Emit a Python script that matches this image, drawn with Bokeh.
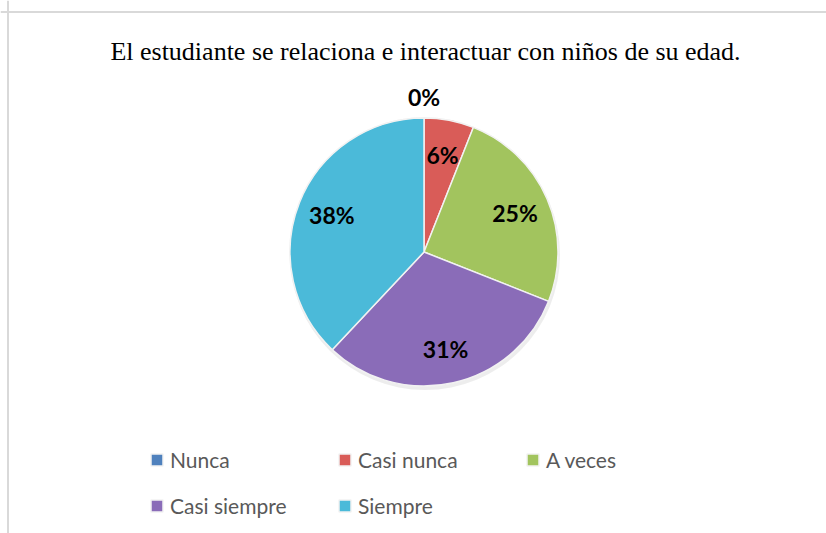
import math
from bokeh.plotting import figure
from bokeh.models import Range1d, Span, Legend, LegendItem, ColumnDataSource
from bokeh.core.properties import value
from bokeh.embed import file_html
from bokeh.resources import INLINE

TITLE = "El estudiante se relaciona e interactuar con niños de su edad."
categories = ["Nunca", "Casi nunca", "A veces", "Casi siempre", "Siempre"]
percentages = [0, 6, 25, 31, 38]
labels = ["0%", "6%", "25%", "31%", "38%"]
colors = ["#4f81bd", "#d95c58", "#a2c45e", "#8a6cb8", "#4bbad9"]

# layout (screen pixels; y is negated screen y)
CX, CY, R = 423.5, -251.5, 134

p = figure(width=826, height=533, x_range=Range1d(0, 826), y_range=Range1d(-533, 0),
           output_backend="svg", toolbar_location=None,
           x_axis_type=None, y_axis_type=None,
           min_border_left=0, min_border_right=0, min_border_top=0, min_border_bottom=0)
p.grid.visible = False
p.outline_line_color = None
p.background_fill_color = "white"
p.border_fill_color = "white"

# chart frame lines (top and left visible in reference crop)
p.add_layout(Span(location=-11.5, dimension="width", line_color="#d9d9d9", line_width=2))
p.add_layout(Span(location=7.5, dimension="height", line_color="#d9d9d9", line_width=2))

total = float(sum(percentages))
starts, ends, lx, ly = [], [], [], []
cum = 0.0
for v in percentages:
    a0 = cum / total * 2 * math.pi
    a1 = (cum + v) / total * 2 * math.pi
    starts.append(math.pi / 2 - a0)
    ends.append(math.pi / 2 - a1)
    mid = (a0 + a1) / 2
    f = 0.74 if v > 0 else 1.155
    lx.append(CX + f * R * math.sin(mid))
    ly.append(CY + f * R * math.cos(mid))
    cum += v

src = ColumnDataSource(dict(cat=categories, start=starts, end=ends, color=colors,
                            x=[CX] * len(categories), y=[CY] * len(categories)))

# soft shadow
p.circle(x=[CX + 1], y=[CY - 3], radius=R + 1, fill_color="#000000", fill_alpha=0.07, line_color=None)

wr = p.wedge(x="x", y="y", radius=R, start_angle="start", end_angle="end", direction="clock",
             fill_color="color", line_color="#f2f2f2", line_width=1.5, source=src)

p.text(x=lx, y=ly, text=labels, text_font=value("Lato"), text_font_style="bold",
       text_font_size="23px", text_align="center", text_baseline="middle", text_color="black")

p.text(x=[425], y=[-51], text=[TITLE], text_font=value("Liberation Serif"),
       text_font_size="26px", text_align="center", text_baseline="alphabetic", text_color="black")

items = [LegendItem(label=c, renderers=[wr], index=i) for i, c in enumerate(categories)]
legend = Legend(items=items, location=(149, 15), orientation="horizontal", ncols=3,
                glyph_width=15, glyph_height=15, label_standoff=6, spacing=21, label_width=146,
                padding=0, margin=0, border_line_alpha=0, background_fill_alpha=0,
                label_text_font="Lato", label_text_font_size="21px", label_text_color="#595959")
p.add_layout(legend, "center")

open("out.html", "w").write(file_html(p, INLINE))
